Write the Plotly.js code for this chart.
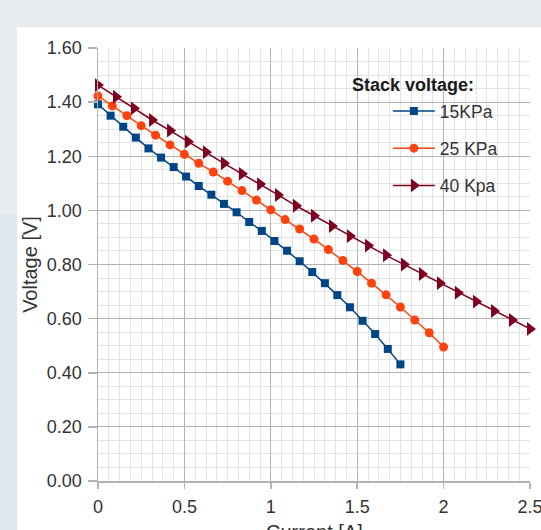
<!DOCTYPE html>
<html>
<head>
<meta charset="utf-8">
<script src="https://cdn.plot.ly/plotly-3.0.1.min.js"></script>
<style>
  html, body { margin: 0; padding: 0; width: 541px; height: 530px; overflow: hidden; background: #e9ecef; }
  #blue { position: absolute; left: 0; top: 214px; width: 17px; height: 316px; background: #dde7ef; }
  #chart { position: absolute; left: 17px; top: 27px; width: 524px; height: 503px; }
</style>
</head>
<body>
<div id="blue"></div>
<div id="chart"></div>
<script>
// Current [A]
var current15 = [0, 0.073, 0.146, 0.219, 0.292, 0.365, 0.438, 0.510, 0.583, 0.656, 0.729, 0.802, 0.875, 0.948, 1.021, 1.094, 1.167, 1.240, 1.313, 1.385, 1.458, 1.531, 1.604, 1.677, 1.750];
var voltage15 = [1.392, 1.350, 1.309, 1.269, 1.229, 1.195, 1.160, 1.125, 1.090, 1.058, 1.024, 0.993, 0.957, 0.924, 0.887, 0.851, 0.812, 0.772, 0.731, 0.687, 0.642, 0.592, 0.543, 0.488, 0.431];

var current25 = [0, 0.083, 0.167, 0.250, 0.333, 0.417, 0.500, 0.583, 0.667, 0.750, 0.833, 0.917, 1.000, 1.083, 1.167, 1.250, 1.333, 1.417, 1.500, 1.583, 1.667, 1.750, 1.833, 1.917, 2.000];
var voltage25 = [1.423, 1.386, 1.350, 1.313, 1.278, 1.242, 1.207, 1.174, 1.142, 1.108, 1.073, 1.038, 1.002, 0.966, 0.931, 0.894, 0.855, 0.815, 0.774, 0.731, 0.688, 0.643, 0.595, 0.548, 0.495];

var current40 = [0, 0.104, 0.208, 0.313, 0.417, 0.521, 0.625, 0.729, 0.833, 0.938, 1.042, 1.146, 1.250, 1.354, 1.458, 1.563, 1.667, 1.771, 1.875, 1.979, 2.083, 2.188, 2.292, 2.396, 2.500];
var voltage40 = [1.463, 1.420, 1.377, 1.334, 1.295, 1.254, 1.215, 1.174, 1.135, 1.097, 1.057, 1.017, 0.980, 0.942, 0.905, 0.870, 0.834, 0.800, 0.765, 0.731, 0.696, 0.663, 0.628, 0.595, 0.562];

var seriesNames = ['15KPa', '25 KPa', '40 Kpa'];
var yTickVals = [0, 0.2, 0.4, 0.6, 0.8, 1.0, 1.2, 1.4, 1.6];
var yTickText = ['0.00', '0.20', '0.40', '0.60', '0.80', '1.00', '1.20', '1.40', '1.60'];
var xTickVals = [0, 0.5, 1, 1.5, 2, 2.5];
var xTickText = ['0', '0.5', '1', '1.5', '2', '2.5'];

var FONT = '"Liberation Sans", Arial, sans-serif';

var traces = [
  { x: current15, y: voltage15, name: seriesNames[0], legendgroup: 'a', mode: 'lines+markers', cliponaxis: false,
    line: { color: '#004586', width: 1.5 }, marker: { symbol: 'square', size: 8, color: '#004586' } },
  { x: current25, y: voltage25, name: seriesNames[1], legendgroup: 'b', mode: 'lines+markers', cliponaxis: false,
    line: { color: '#ff420e', width: 1.5 }, marker: { symbol: 'circle', size: 9, color: '#ff420e' } },
  { x: current40, y: voltage40, name: seriesNames[2], legendgroup: 'c', mode: 'lines+markers', cliponaxis: false,
    line: { color: '#7e0021', width: 1.5 }, marker: { symbol: 'triangle-right', size: 12, color: '#7e0021' } }
];

var layout = {
  width: 524, height: 503,
  margin: { l: 81, r: 11, t: 21, b: 49 },
  paper_bgcolor: '#ffffff',
  plot_bgcolor: '#ffffff',
  font: { family: FONT, size: 18, color: '#333333' },
  showlegend: true,
  legend: {
    x: 0.671, xanchor: 'left', y: 0.896, yanchor: 'top',
    bgcolor: 'rgba(0,0,0,0)', borderwidth: 0,
    font: { family: FONT, size: 17.5, color: '#333333' },
    tracegroupgap: 11.5, itemwidth: 42
  },
  xaxis: {
    range: [0, 2.5], tickmode: 'array', tickvals: xTickVals, ticktext: xTickText,
    ticklabeloverflow: 'allow',
    showgrid: true, gridcolor: '#b3b3b3', gridwidth: 1,
    zeroline: false, showline: true, linecolor: '#b3b3b3', linewidth: 1.5,
    ticks: 'outside', ticklen: 6, tickcolor: '#b3b3b3', tickwidth: 1.5, ticklabelstandoff: 3,
    tickfont: { family: FONT, size: 18, color: '#333333' },
    minor: { dtick: 0.0625, tick0: 0, showgrid: true, gridcolor: '#e3e3e3', gridwidth: 1 }
  },
  yaxis: {
    range: [0, 1.6], tickmode: 'array', tickvals: yTickVals, ticktext: yTickText,
    showgrid: true, gridcolor: '#b3b3b3', gridwidth: 1,
    zeroline: false, showline: true, linecolor: '#b3b3b3', linewidth: 1.5,
    ticks: 'outside', ticklen: 9, tickcolor: '#b3b3b3', tickwidth: 1.5, ticklabelstandoff: 2,
    tickfont: { family: FONT, size: 18, color: '#333333' },
    minor: { dtick: 0.05, tick0: 0, showgrid: true, gridcolor: '#e3e3e3', gridwidth: 1 },
    title: { text: 'Voltage [V]', font: { family: FONT, size: 20, color: '#333333' }, standoff: 4 }
  },
  annotations: [
    { text: '<b>Stack voltage:</b>', xref: 'paper', yref: 'paper', x: 0.583, y: 0.9145,
      xanchor: 'left', yanchor: 'middle', showarrow: false,
      font: { family: FONT, size: 18, color: '#1a1a1a' } },
    { text: 'Current [A]', xref: 'paper', yref: 'paper', x: 0.5, y: -0.088,
      xanchor: 'center', yanchor: 'top', showarrow: false,
      font: { family: FONT, size: 20, color: '#333333' } }
  ]
};

Plotly.newPlot('chart', traces, layout, { displayModeBar: false, staticPlot: true });
</script>
</body>
</html>
